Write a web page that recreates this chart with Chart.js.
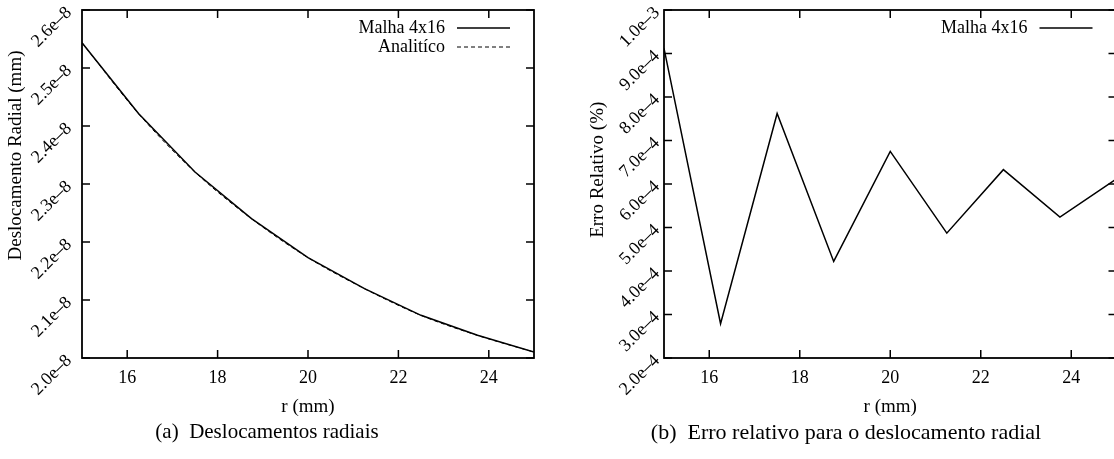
<!DOCTYPE html>
<html>
<head>
<meta charset="utf-8">
<script src="https://cdn.jsdelivr.net/npm/chart.js@4.4.1/dist/chart.umd.min.js"></script>
<style>
  html, body { margin: 0; padding: 0; background: #fff; overflow: hidden; }
  #wrap { position: relative; width: 1114px; height: 459px; overflow: hidden; }
  canvas { position: absolute; top: 0; }
  #chartDesl { left: 0; }
  #chartErro { left: 560px; }
  .legenda { position: absolute; top: 419px; font-family: "Liberation Serif", serif; font-size: 21px;
             white-space: pre; transform: translateX(-50%); color: #000; }
</style>
</head>
<body>
<div id="wrap">
  <canvas id="chartDesl" width="560" height="420"></canvas>
  <canvas id="chartErro" width="560" height="420"></canvas>
  <div class="legenda" style="left:267px">(a)  Deslocamentos radiais</div>
  <div class="legenda" style="left:846px;font-size:22px">(b)  Erro relativo para o deslocamento radial</div>
</div>
<script>
// dados
const raios = [15, 16.25, 17.5, 18.75, 20, 21.25, 22.5, 23.75, 25];
const deslMalha = [2.5436e-8, 2.4214e-8, 2.3207e-8, 2.2403e-8, 2.1731e-8, 2.1197e-8, 2.0736e-8, 2.0391e-8, 2.0103e-8];
const deslAnalitico = [2.5436e-8, 2.4212e-8, 2.3205e-8, 2.2401e-8, 2.1730e-8, 2.1195e-8, 2.0735e-8, 2.0390e-8, 2.0102e-8];
const erroMalha = [9.12e-4, 2.79e-4, 7.62e-4, 4.22e-4, 6.75e-4, 4.87e-4, 6.33e-4, 5.24e-4, 6.12e-4];

const xTicks = [16, 18, 20, 22, 24];
const xTickLabels = ['16', '18', '20', '22', '24'];
const yTicksDesl = [2.0e-8, 2.1e-8, 2.2e-8, 2.3e-8, 2.4e-8, 2.5e-8, 2.6e-8];
const yLabelsDesl = ['2.0e\u20138', '2.1e\u20138', '2.2e\u20138', '2.3e\u20138', '2.4e\u20138', '2.5e\u20138', '2.6e\u20138'];
const yTicksErro = [2e-4, 3e-4, 4e-4, 5e-4, 6e-4, 7e-4, 8e-4, 9e-4, 1e-3];
const yLabelsErro = ['2.0e\u20134', '3.0e\u20134', '4.0e\u20134', '5.0e\u20134', '6.0e\u20134', '7.0e\u20134', '8.0e\u20134', '9.0e\u20134', '1.0e\u20133'];

const FONTE = 'Liberation Serif';
const TAM = 19;
const pontos = ys => raios.map((r, i) => ({ x: r, y: ys[i] }));
// espacos na frente sobem um pouco o titulo do eixo y, como no gnuplot
const recuo = n => '\u00a0'.repeat(n);

// moldura e ticks para dentro, estilo gnuplot
const molduraPlugin = {
  id: 'moldura',
  afterDraw(chart) {
    const { ctx, chartArea: a, scales } = chart;
    const t = 8;
    ctx.save();
    ctx.strokeStyle = '#000';
    ctx.lineWidth = 1.5;
    ctx.beginPath();
    scales.x.ticks.forEach(tk => {
      const px = scales.x.getPixelForValue(tk.value);
      ctx.moveTo(px, a.bottom); ctx.lineTo(px, a.bottom - t);
      ctx.moveTo(px, a.top); ctx.lineTo(px, a.top + t);
    });
    scales.y.ticks.forEach(tk => {
      const py = scales.y.getPixelForValue(tk.value);
      ctx.moveTo(a.left, py); ctx.lineTo(a.left + t, py);
      ctx.moveTo(a.right, py); ctx.lineTo(a.right - t, py);
    });
    ctx.stroke();
    ctx.lineWidth = 1.8;
    ctx.strokeRect(a.left, a.top, a.right - a.left, a.bottom - a.top);
    ctx.restore();
  }
};

// legenda dentro da area, texto a direita e amostra da linha
const legendaPlugin = {
  id: 'legendaGnu',
  afterDraw(chart) {
    const { ctx, chartArea: a } = chart;
    ctx.save();
    ctx.font = '18px "' + FONTE + '"';
    ctx.fillStyle = '#000';
    ctx.textAlign = 'right';
    ctx.textBaseline = 'middle';
    chart.data.datasets.forEach((ds, i) => {
      const y = a.top + 18 + i * 19;
      ctx.fillText(ds.label, a.right - 89, y);
      ctx.strokeStyle = '#000';
      ctx.lineWidth = ds.borderWidth;
      ctx.setLineDash(ds.borderDash || []);
      ctx.beginPath();
      ctx.moveTo(a.right - 77, y);
      ctx.lineTo(a.right - 24, y);
      ctx.stroke();
    });
    ctx.restore();
  }
};

function eixos(yMin, yMax, yTicks, yLabels, yWidth, yPad, tituloY, tituloPadY) {
  return {
    x: {
      type: 'linear', min: 15, max: 25,
      grid: { display: false, drawTicks: false }, border: { display: false },
      afterBuildTicks: s => { s.ticks = xTicks.map(v => ({ value: v })); },
      afterFit: s => { s.height = 62; s.paddingLeft = 0; s.paddingRight = 0; },
      ticks: { color: '#000', padding: 9, font: { family: FONTE, size: 18 },
               callback: (v, i) => xTickLabels[i] },
      title: { display: true, text: 'r (mm)', color: '#000', padding: { top: 0, bottom: 2 },
               font: { family: FONTE, size: TAM } }
    },
    y: {
      type: 'linear', min: yMin, max: yMax,
      grid: { display: false, drawTicks: false }, border: { display: false },
      afterBuildTicks: s => { s.ticks = yTicks.map(v => ({ value: v })); },
      afterFit: s => { s.width = yWidth; s.paddingTop = 0; s.paddingBottom = 0; },
      ticks: { color: '#000', padding: yPad, minRotation: 45, maxRotation: 45,
               font: { family: FONTE, size: 18 },
               callback: (v, i) => yLabels[i] },
      title: { display: true, text: tituloY, color: '#000', padding: { top: tituloPadY, bottom: 0 },
               font: { family: FONTE, size: TAM } }
    }
  };
}

new Chart(document.getElementById('chartDesl').getContext('2d'), {
  type: 'line',
  data: {
    datasets: [
      { label: 'Malha 4x16', data: pontos(deslMalha), borderColor: '#000', borderWidth: 1.5,
        pointRadius: 0, tension: 0, fill: false },
      { label: 'Analitíco', data: pontos(deslAnalitico), borderColor: '#000', borderWidth: 1,
        borderDash: [4, 3], pointRadius: 0, cubicInterpolationMode: 'monotone', fill: false }
    ]
  },
  options: {
    responsive: false,
    animation: false,
    layout: { padding: { top: 10, right: 26, bottom: 0, left: 0 } },
    scales: eixos(2.0e-8, 2.6e-8, yTicksDesl, yLabelsDesl, 82, 13,
                  recuo(12) + 'Deslocamento Radial (mm)', 5),
    plugins: { legend: { display: false }, tooltip: { enabled: false } }
  },
  plugins: [molduraPlugin, legendaPlugin]
});

new Chart(document.getElementById('chartErro').getContext('2d'), {
  type: 'line',
  data: {
    datasets: [
      { label: 'Malha 4x16', data: pontos(erroMalha), borderColor: '#000', borderWidth: 1.5,
        pointRadius: 0, tension: 0, fill: false }
    ]
  },
  options: {
    responsive: false,
    animation: false,
    layout: { padding: { top: 10, right: 3.5, bottom: 0, left: 0 } },
    scales: eixos(2e-4, 1e-3, yTicksErro, yLabelsErro, 104, 7,
                  recuo(6) + 'Erro Relativo (%)', 27),
    plugins: { legend: { display: false }, tooltip: { enabled: false } }
  },
  plugins: [molduraPlugin, legendaPlugin]
});
</script>
</body>
</html>
